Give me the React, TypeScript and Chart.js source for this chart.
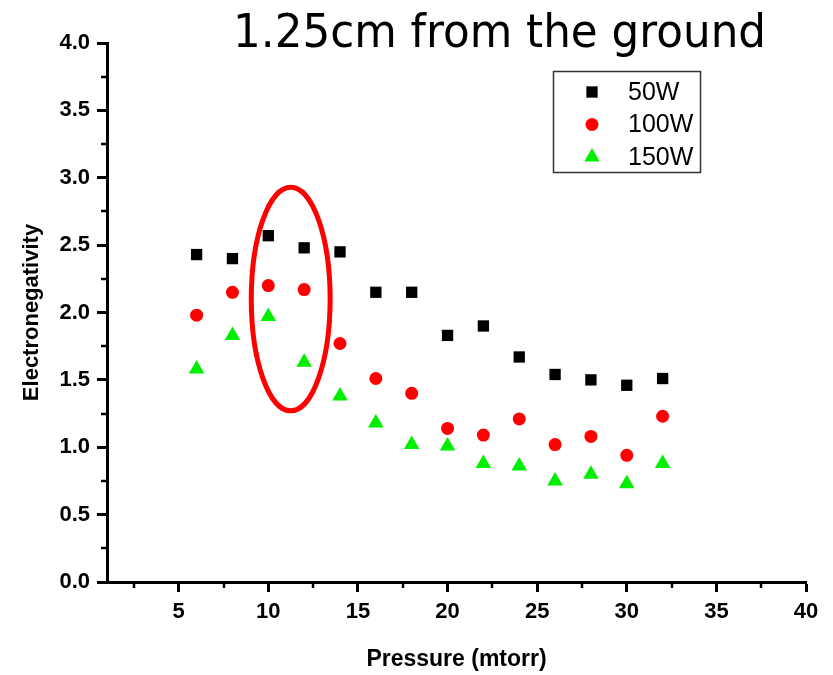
import React, { useEffect, useRef } from 'react';
import { Chart, registerables } from 'chart.js';

Chart.register(...registerables);

const TITLE = '1.25cm from the ground';
const X_TITLE = 'Pressure (mtorr)';
const Y_TITLE = 'Electronegativity';

const pressure = [6, 8, 10, 12, 14, 16, 18, 20, 22, 24, 26, 28, 30, 32];
const w50 = [2.43, 2.40, 2.57, 2.48, 2.45, 2.15, 2.15, 1.83, 1.90, 1.67, 1.54, 1.50, 1.46, 1.51];
const w100 = [1.98, 2.15, 2.20, 2.17, 1.77, 1.51, 1.40, 1.14, 1.09, 1.21, 1.02, 1.08, 0.94, 1.23];
const w150 = [1.58, 1.83, 1.97, 1.63, 1.38, 1.18, 1.02, 1.01, 0.88, 0.86, 0.75, 0.80, 0.73, 0.88];

const seriesLabels = ['50W', '100W', '150W'];
const seriesColors = ['#000000', '#ff0000', '#00ee00'];
const seriesStyles = ['rect', 'circle', 'triangle'];
const seriesRadius = [8, 6.5, 9];

const xTicks = [5, 10, 15, 20, 25, 30, 35, 40];
const yTicks = [0, 0.5, 1, 1.5, 2, 2.5, 3, 3.5, 4];
const xMinorTicks = [2.5, 7.5, 12.5, 17.5, 22.5, 27.5, 32.5, 37.5];
const yMinorTicks = [0.25, 0.75, 1.25, 1.75, 2.25, 2.75, 3.25, 3.75];

// highlighted region (data units): centre pressure, centre value, half-widths
const highlightCenter = [11.25, 2.1];
const highlightRadii = [2.2, 0.83];

const FONT = '"Liberation Sans", Arial, sans-serif';

function drawMarker(ctx: CanvasRenderingContext2D, style: string, x: number, y: number, r: number, color: string) {
  ctx.fillStyle = color;
  ctx.beginPath();
  if (style === 'rect') {
    const s = Math.SQRT1_2 * r;
    ctx.rect(x - s, y - s, 2 * s, 2 * s);
  } else if (style === 'circle') {
    ctx.arc(x, y, r, 0, Math.PI * 2);
  } else {
    let a = 0;
    ctx.moveTo(x + Math.sin(a) * r, y - Math.cos(a) * r);
    a += (2 * Math.PI) / 3;
    ctx.lineTo(x + Math.sin(a) * r, y - Math.cos(a) * r);
    a += (2 * Math.PI) / 3;
    ctx.lineTo(x + Math.sin(a) * r, y - Math.cos(a) * r);
    ctx.closePath();
  }
  ctx.fill();
}

const decorPlugin = {
  id: 'decor',
  afterDraw(chart: any) {
    const ctx: CanvasRenderingContext2D = chart.ctx;
    const xs = chart.scales.x;
    const ys = chart.scales.y;
    const area = chart.chartArea;
    ctx.save();

    // minor ticks
    ctx.strokeStyle = '#000';
    ctx.lineWidth = 2.5;
    xMinorTicks.forEach((v) => {
      const px = Math.round(xs.getPixelForValue(v));
      ctx.beginPath();
      ctx.moveTo(px, area.bottom);
      ctx.lineTo(px, area.bottom + 6);
      ctx.stroke();
    });
    yMinorTicks.forEach((v) => {
      const py = Math.round(ys.getPixelForValue(v));
      ctx.beginPath();
      ctx.moveTo(area.left, py);
      ctx.lineTo(area.left - 6, py);
      ctx.stroke();
    });

    // highlight ellipse
    const cx = xs.getPixelForValue(highlightCenter[0]);
    const cy = ys.getPixelForValue(highlightCenter[1]);
    const rx = Math.abs(xs.getPixelForValue(highlightCenter[0] + highlightRadii[0]) - cx);
    const ry = Math.abs(ys.getPixelForValue(highlightCenter[1] + highlightRadii[1]) - cy);
    ctx.beginPath();
    ctx.ellipse(cx, cy, rx, ry, 0, 0, Math.PI * 2);
    ctx.strokeStyle = '#ff0000';
    ctx.lineWidth = 5;
    ctx.stroke();

    // title
    ctx.fillStyle = '#000';
    ctx.font = '46px "DejaVu Sans", sans-serif';
    ctx.textAlign = 'left';
    ctx.textBaseline = 'alphabetic';
    ctx.fillText(TITLE, 233, 47, 533);

    // legend
    ctx.strokeStyle = '#333';
    ctx.lineWidth = 1.5;
    ctx.strokeRect(553.5, 71.5, 147, 101);
    ctx.font = '25px ' + FONT;
    ctx.textBaseline = 'middle';
    const rows = [92, 124.5, 157];
    seriesLabels.forEach((lab, i) => {
      drawMarker(ctx, seriesStyles[i], 592, rows[i], seriesRadius[i], seriesColors[i]);
      ctx.fillStyle = '#000';
      ctx.fillText(lab, 628, rows[i] + 1);
    });

    ctx.restore();
  },
};

export default function App() {
  const canvasRef = useRef<HTMLCanvasElement | null>(null);

  useEffect(() => {
    if (!canvasRef.current) return;
    const series = [w50, w100, w150];
    const chart = new Chart(canvasRef.current, {
      type: 'scatter',
      data: {
        datasets: series.map((vals, i) => ({
          label: seriesLabels[i],
          data: pressure.map((p, j) => ({ x: p, y: vals[j] })),
          pointStyle: seriesStyles[i] as any,
          pointRadius: seriesRadius[i],
          pointHoverRadius: seriesRadius[i],
          backgroundColor: seriesColors[i],
          borderColor: seriesColors[i],
          pointBorderWidth: 0,
          borderWidth: 0,
        })),
      },
      options: {
        animation: false,
        responsive: true,
        maintainAspectRatio: false,
        layout: { padding: { top: 43, right: 27, left: 0, bottom: 0 } },
        plugins: {
          legend: { display: false },
          tooltip: { enabled: false },
          title: { display: false },
        },
        scales: {
          x: {
            type: 'linear',
            position: 'bottom',
            min: 1,
            max: 40,
            afterBuildTicks: (scale: any) => {
              scale.ticks = xTicks.map((v) => ({ value: v }));
            },
            afterFit: (scale: any) => {
              scale.height = 93;
            },
            grid: {
              drawOnChartArea: false,
              drawTicks: true,
              tickLength: 10,
              tickWidth: 3,
              tickColor: '#000',
            },
            border: { display: true, color: '#000', width: 3 },
            ticks: {
              color: '#000',
              padding: 7,
              font: { family: FONT, size: 22, weight: 'bold' },
              callback: (v: any) => String(v),
              maxRotation: 0,
              autoSkip: false,
            },
            title: {
              display: true,
              text: X_TITLE,
              color: '#000',
              font: { family: FONT, size: 23, weight: 'bold' },
              padding: { top: 0, bottom: 2 },
            },
          },
          y: {
            type: 'linear',
            min: 0,
            max: 4,
            afterBuildTicks: (scale: any) => {
              scale.ticks = yTicks.map((v) => ({ value: v }));
            },
            afterFit: (scale: any) => {
              scale.width = 107;
            },
            grid: {
              drawOnChartArea: false,
              drawTicks: true,
              tickLength: 10,
              tickWidth: 3,
              tickColor: '#000',
            },
            border: { display: true, color: '#000', width: 3 },
            ticks: {
              color: '#000',
              padding: 7,
              font: { family: FONT, size: 22, weight: 'bold' },
              callback: (v: any) => Number(v).toFixed(1),
              autoSkip: false,
            },
            title: {
              display: true,
              text: Y_TITLE,
              color: '#000',
              font: { family: FONT, size: 22, weight: 'bold' },
              padding: { top: 19, bottom: 0 },
            },
          },
        },
      } as any,
      plugins: [decorPlugin],
    });
    return () => chart.destroy();
  }, []);

  return (
    <div style={{ position: 'absolute', left: 0, top: 0, width: 833, height: 675, background: '#fff' }}>
      <canvas ref={canvasRef} style={{ display: 'block' }} />
    </div>
  );
}
